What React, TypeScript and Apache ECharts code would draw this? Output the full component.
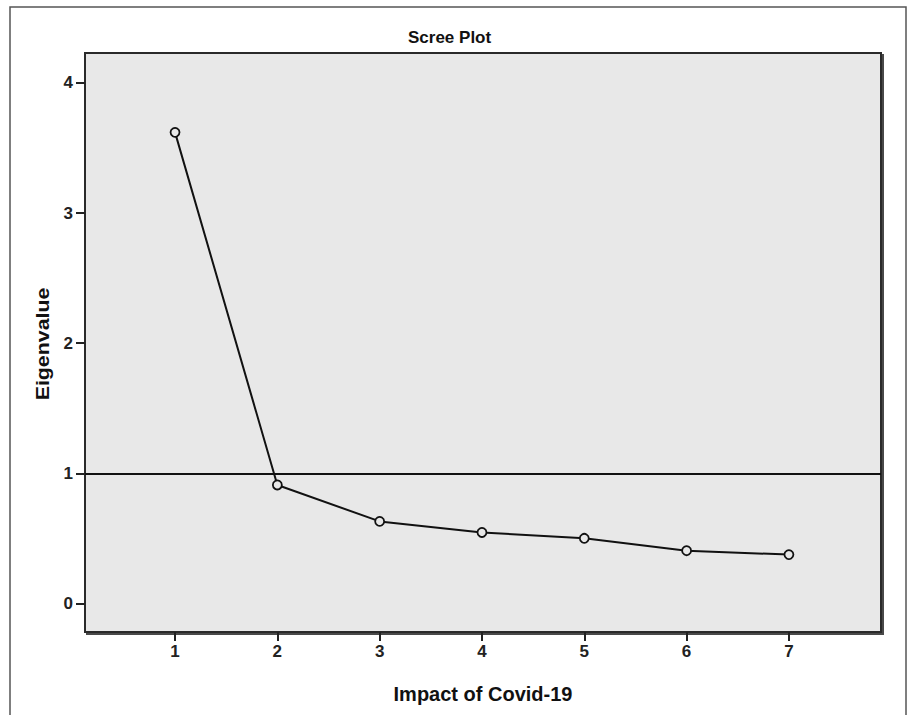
import React, { useEffect, useRef } from "react";
import * as echarts from "echarts";

const components = [1, 2, 3, 4, 5, 6, 7];
const eigenvalues = [3.62, 0.91, 0.63, 0.545, 0.5, 0.405, 0.375];
const yTicks = [0, 1, 2, 3, 4];
const xTicks = [1, 2, 3, 4, 5, 6, 7];
const referenceLevel = 1;
const titleText = "Scree Plot";
const xName = "Impact of Covid-19";
const yName = "Eigenvalue";

export default function App() {
  const ref = useRef<HTMLDivElement>(null);
  useEffect(() => {
    if (!ref.current) return;
    const chart = echarts.init(ref.current, null, { renderer: "svg" });
    const plotBg = "#e8e8e8";
    chart.setOption({
      animation: false,
      backgroundColor: "#ffffff",
      textStyle: { fontFamily: "Liberation Sans, Arial, sans-serif" },
      grid: {
        left: 85,
        top: 53,
        width: 796,
        height: 579,
        show: true,
        backgroundColor: plotBg,
        borderColor: "#2a2a2a",
        borderWidth: 2,
        shadowColor: "#4a4a4a",
        shadowOffsetX: 2,
        shadowOffsetY: 2,
        shadowBlur: 0,
      },
      graphic: [
        {
          type: "rect",
          shape: { x: 10, y: 7, width: 896, height: 730 },
          style: { fill: "none", stroke: "#555", lineWidth: 1.5 },
          silent: true,
          z: -10,
        },
        {
          type: "text",
          x: 408,
          y: 37,
          style: {
            text: titleText,
            fontSize: 17,
            fontWeight: "bold",
            fontFamily: "Liberation Sans, Arial, sans-serif",
            fill: "#111",
            align: "left",
            verticalAlign: "middle",
          },
        },
        {
          type: "text",
          x: 43,
          y: 344,
          rotation: Math.PI / 2,
          scaleX: 1.22,
          style: {
            text: yName,
            fontSize: 17.5,
            fontWeight: "bold",
            fontFamily: "Liberation Sans, Arial, sans-serif",
            fill: "#111",
            align: "center",
            verticalAlign: "middle",
          },
        },
      ],
      xAxis: {
        type: "value",
        min: 0.12,
        max: 7.9,
        name: xName,
        nameLocation: "middle",
        nameGap: 52,
        nameTextStyle: { fontSize: 20, fontWeight: "bold", color: "#111" },
        axisLine: { show: false, onZero: false },
        splitLine: { show: false },
        axisTick: {
          show: true,
          inside: false,
          length: 9,
          lineStyle: { color: "#222", width: 2 },
          customValues: xTicks,
        },
        axisLabel: {
          fontSize: 17,
          fontWeight: "bold",
          color: "#222",
          margin: 11,
          customValues: xTicks,
        },
      },
      yAxis: {
        type: "value",
        min: -0.22,
        max: 4.23,
        axisLine: { show: false, onZero: false },
        splitLine: { show: false },
        axisTick: {
          show: true,
          inside: false,
          length: 9,
          lineStyle: { color: "#222", width: 2 },
          customValues: yTicks,
        },
        axisLabel: {
          fontSize: 17,
          fontWeight: "bold",
          color: "#222",
          margin: 12,
          customValues: yTicks,
        },
      },
      series: [
        {
          type: "line",
          data: components.map((c, i) => [c, eigenvalues[i]]),
          symbol: "circle",
          symbolSize: 9,
          lineStyle: { color: "#111", width: 2 },
          itemStyle: { color: plotBg, borderColor: "#111", borderWidth: 1.8 },
          z: 5,
          markLine: {
            silent: true,
            symbol: "none",
            label: { show: false },
            lineStyle: { color: "#111", width: 2, type: "solid" },
            data: [{ yAxis: referenceLevel }],
          },
        },
      ],
    });
    return () => chart.dispose();
  }, []);
  return (
    <div
      ref={ref}
      style={{ position: "fixed", left: 0, top: 0, width: 912, height: 715 }}
    />
  );
}
